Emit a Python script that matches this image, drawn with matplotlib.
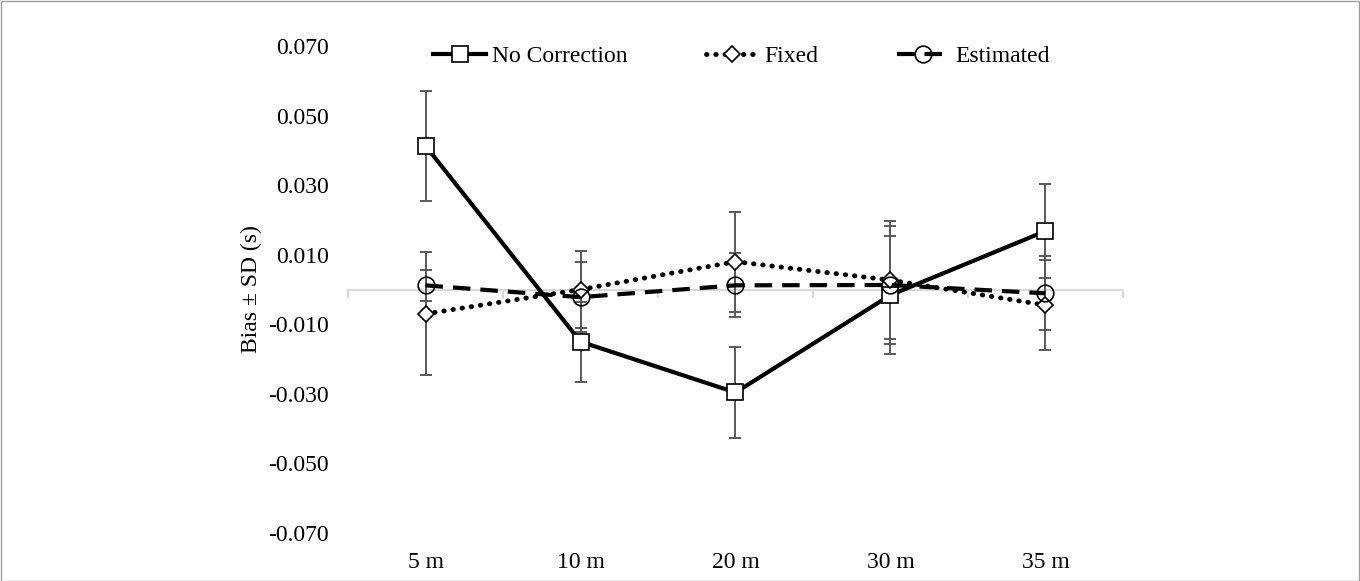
import numpy as np
import matplotlib.pyplot as plt

plt.rcParams['font.family'] = ['Liberation Serif', 'DejaVu Serif']

distances = ['5 m', '10 m', '20 m', '30 m', '35 m']

no_corr = [0.0413, -0.0150, -0.0296, -0.0016, 0.0168]
no_corr_sd = [0.0158, 0.0115, 0.0130, 0.0169, 0.0134]

fixed = [-0.0070, 0.0000, 0.0080, 0.0027, -0.0045]
fixed_sd = [0.0177, 0.0111, 0.0144, 0.0170, 0.0130]

estimated = [0.0012, -0.0022, 0.0012, 0.0013, -0.0011]
estimated_sd = [0.0045, 0.0100, 0.0092, 0.0170, 0.0106]

yticks = [0.07, 0.05, 0.03, 0.01, -0.01, -0.03, -0.05, -0.07]

fig = plt.figure(figsize=(13.6, 5.81), dpi=100)
ax = fig.add_axes([0.2559, 0.0826, 0.5698, 0.8382])
x = np.arange(len(distances))

err_kw = dict(fmt='none', ecolor='#595959', elinewidth=1.4, capsize=4, capthick=1.4, zorder=2)
ax.errorbar(x, no_corr, yerr=no_corr_sd, **err_kw)
ax.errorbar(x, fixed, yerr=fixed_sd, **err_kw)
ax.errorbar(x, estimated, yerr=estimated_sd, **err_kw)

ax.plot(x, no_corr, '-', color='black', lw=3, marker='s', ms=12, mfc='white',
        mec='black', mew=1.2, label='No Correction', zorder=4)
ax.plot(x, fixed, color='black', lw=3.5, ls=(0, (0.1, 1.8)), dash_capstyle='round',
        marker='D', ms=8.5, mfc='white', mec='black', mew=1.2, label='Fixed', zorder=4)
ax.plot(x, estimated, color='black', lw=3, ls=(0, (4.2, 2.4)), marker='o', ms=12,
        mfc='none', mec='black', mew=1.2, label='Estimated', zorder=4)

ax.set_xlim(-0.5, len(distances) - 0.5)
ax.set_ylim(-0.07, 0.07)
ax.set_yticks(yticks)
ax.set_yticklabels(['%.3f' % v for v in yticks], fontsize=17)
ax.set_xticks(x)
ax.set_xticklabels(distances, fontsize=17)
ax.tick_params(axis='both', length=0)
ax.tick_params(axis='y', pad=14)
ax.tick_params(axis='x', pad=14)
for s in ax.spines.values():
    s.set_visible(False)
ax.set_ylabel('Bias ± SD (s)', fontsize=17, labelpad=4)

# zero line with category separators
sec = ax.secondary_xaxis(0.5)
for s in sec.spines.values():
    s.set_color('#d9d9d9')
    s.set_linewidth(1.5)
sec.set_xticks(np.arange(-0.5, len(distances)))
sec.set_xticklabels([])
sec.tick_params(axis='x', direction='in', length=6, width=1.5, color='#d9d9d9')

ax.legend(loc='upper center', bbox_to_anchor=(0.508, 1.045), ncol=3, frameon=False,
          fontsize=17, handlelength=2.25, handletextpad=0.25, columnspacing=3.3)

fig.patches.append(plt.Rectangle((0.0005, 0), 0.999, 0.998, transform=fig.transFigure,
                                 fill=False, edgecolor='#a0a0a0', lw=1))

fig.savefig('out.png', dpi=100)
